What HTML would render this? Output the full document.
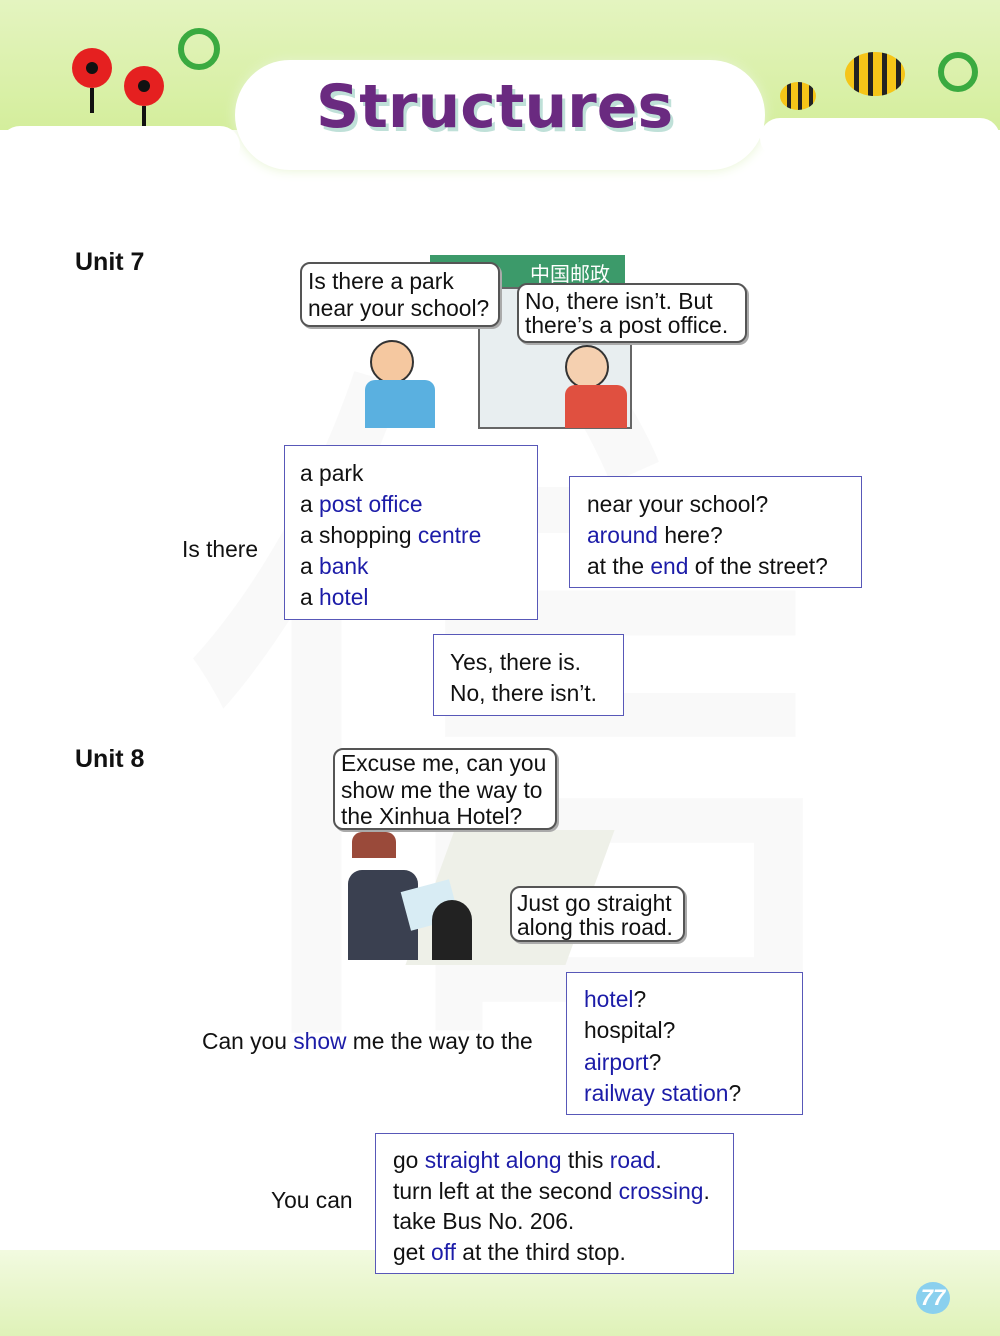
<!DOCTYPE html>
<html><head><meta charset="utf-8"><style>
body{margin:0;width:1000px;height:1336px;position:relative;overflow:hidden;background:#fff;font-family:"Liberation Sans","DejaVu Sans",sans-serif;color:#111}
.a{position:absolute;white-space:nowrap}
.t{font-size:22.8px;line-height:22px}
.b{color:#1c1ca8}
.box{position:absolute;border:1.5px solid #5858b8;background:#fff}
.bub{position:absolute;border:2px solid #555;border-radius:10px;background:#fff;box-shadow:2px 2px 0 #aaa}
.u{font-weight:bold;font-size:25px}
</style></head><body>
<div class="a" style="left:0;top:0;width:1000px;height:130px;background:linear-gradient(#e4f4c0,#d4ee9c)"></div>
<div class="a" style="left:235px;top:60px;width:530px;height:110px;background:#fff;border-radius:60px;box-shadow:0 0 12px #e6f4d0"></div>
<div class="a" style="left:760px;top:118px;width:240px;height:40px;background:#fff;border-radius:30px"></div>
<div class="a" style="left:0;top:126px;width:240px;height:40px;background:#fff;border-radius:30px"></div>
<div class="a" style="left:316px;top:72px;font-size:60px;font-weight:bold;color:#6a2a80;letter-spacing:0px;text-shadow:3px 4px 0 #bfe0d8;font-family:'DejaVu Sans',sans-serif">Structures</div>
<div class="a" style="left:72px;top:48px;width:40px;height:40px;border-radius:50%;background:#e52020"></div>
<div class="a" style="left:86px;top:62px;width:12px;height:12px;border-radius:50%;background:#111"></div>
<div class="a" style="left:90px;top:88px;width:4px;height:25px;background:#111"></div>
<div class="a" style="left:124px;top:66px;width:40px;height:40px;border-radius:50%;background:#e52020"></div>
<div class="a" style="left:138px;top:80px;width:12px;height:12px;border-radius:50%;background:#111"></div>
<div class="a" style="left:142px;top:106px;width:4px;height:20px;background:#111"></div>
<div class="a" style="left:178px;top:28px;width:30px;height:30px;border-radius:50%;border:6px solid #3aaa40"></div>
<div class="a" style="left:938px;top:52px;width:28px;height:28px;border-radius:50%;border:6px solid #3aaa40"></div>
<div class="a" style="left:845px;top:52px;width:60px;height:44px;border-radius:50%;background:repeating-linear-gradient(90deg,#f5c518 0 9px,#222 9px 14px)"></div>
<div class="a" style="left:780px;top:82px;width:36px;height:28px;border-radius:50%;background:repeating-linear-gradient(90deg,#f5c518 0 7px,#222 7px 11px)"></div>
<div class="a" style="left:170px;top:300px;font-size:720px;line-height:720px;color:#f9f9f9;font-family:'Noto Sans CJK SC',sans-serif">信</div>

<div class="a u" style="left:75px;top:248px">Unit 7</div>
<div class="a" style="left:430px;top:255px;width:195px;height:32px;background:#3c9a6a"></div>
<div class="a" style="left:530px;top:258px;color:#fff;font-size:20px;font-family:'Noto Sans CJK SC',sans-serif">中国邮政</div>
<div class="a" style="left:478px;top:287px;width:150px;height:138px;background:#e8eef0;border:2px solid #666"></div>
<div class="a" style="left:370px;top:340px;width:40px;height:40px;border-radius:50%;background:#f5c8a0;border:2px solid #333"></div>
<div class="a" style="left:365px;top:380px;width:70px;height:48px;background:#5ab0e0;border-radius:10px 10px 0 0"></div>
<div class="a" style="left:565px;top:345px;width:40px;height:40px;border-radius:50%;background:#f5d0b0;border:2px solid #333"></div>
<div class="a" style="left:565px;top:385px;width:62px;height:43px;background:#e05040;border-radius:10px 10px 0 0"></div>
<div class="bub" style="left:300px;top:262px;width:196px;height:61px"></div>
<div class="a t" style="left:308px;top:270px">Is there a park</div>
<div class="a t" style="left:308px;top:297px">near your school?</div>
<div class="bub" style="left:517px;top:283px;width:226px;height:56px"></div>
<div class="a t" style="left:525px;top:290px">No, there isn’t. But</div>
<div class="a t" style="left:525px;top:314px">there’s a post office.</div>

<div class="a t" style="left:182px;top:538px">Is there</div>
<div class="box" style="left:284px;top:445px;width:252px;height:173px"></div>
<div class="a t" style="left:300px;top:462px">a park</div>
<div class="a t" style="left:300px;top:493px">a <span class="b">post office</span></div>
<div class="a t" style="left:300px;top:524px">a shopping <span class="b">centre</span></div>
<div class="a t" style="left:300px;top:555px">a <span class="b">bank</span></div>
<div class="a t" style="left:300px;top:586px">a <span class="b">hotel</span></div>
<div class="box" style="left:569px;top:476px;width:291px;height:110px"></div>
<div class="a t" style="left:587px;top:493px">near your school?</div>
<div class="a t" style="left:587px;top:524px"><span class="b">around</span> here?</div>
<div class="a t" style="left:587px;top:555px">at the <span class="b">end</span> of the street?</div>
<div class="box" style="left:433px;top:634px;width:189px;height:80px"></div>
<div class="a t" style="left:450px;top:651px">Yes, there is.</div>
<div class="a t" style="left:450px;top:682px">No, there isn’t.</div>

<div class="a u" style="left:75px;top:745px">Unit 8</div>
<div class="a" style="left:430px;top:830px;width:160px;height:135px;background:#eef0e8;transform:skewX(-20deg)"></div>
<div class="a" style="left:352px;top:832px;width:44px;height:26px;background:#9a4a3a;border-radius:10px 10px 0 0"></div>
<div class="a" style="left:348px;top:870px;width:70px;height:90px;background:#3a4050;border-radius:14px 14px 0 0"></div>
<div class="a" style="left:405px;top:885px;width:50px;height:40px;background:#d8ecf4;transform:rotate(-15deg)"></div>
<div class="a" style="left:432px;top:900px;width:40px;height:60px;background:#222;border-radius:20px 20px 0 0"></div>
<div class="bub" style="left:333px;top:748px;width:220px;height:78px"></div>
<div class="a t" style="left:341px;top:752px">Excuse me, can you</div>
<div class="a t" style="left:341px;top:779px">show me the way to</div>
<div class="a t" style="left:341px;top:805px">the Xinhua Hotel?</div>
<div class="bub" style="left:510px;top:886px;width:171px;height:52px"></div>
<div class="a t" style="left:517px;top:892px">Just go straight</div>
<div class="a t" style="left:517px;top:916px">along this road.</div>

<div class="a t" style="left:202px;top:1030px">Can you <span class="b">show</span> me the way to the</div>
<div class="box" style="left:566px;top:972px;width:235px;height:141px"></div>
<div class="a t" style="left:584px;top:988px"><span class="b">hotel</span>?</div>
<div class="a t" style="left:584px;top:1019px">hospital?</div>
<div class="a t" style="left:584px;top:1051px"><span class="b">airport</span>?</div>
<div class="a t" style="left:584px;top:1082px"><span class="b">railway station</span>?</div>

<div class="a" style="left:0;top:1250px;width:1000px;height:86px;background:linear-gradient(#f2fae0,#dff2b8)"></div>
<div class="a t" style="left:271px;top:1189px">You can</div>
<div class="box" style="left:375px;top:1133px;width:357px;height:139px"></div>
<div class="a t" style="left:393px;top:1149px">go <span class="b">straight along</span> this <span class="b">road</span>.</div>
<div class="a t" style="left:393px;top:1180px">turn left at the second <span class="b">crossing</span>.</div>
<div class="a t" style="left:393px;top:1210px">take Bus No. 206.</div>
<div class="a t" style="left:393px;top:1241px">get <span class="b">off</span> at the third stop.</div>
<div class="a" style="left:916px;top:1282px;width:34px;height:32px;border-radius:50%;background:#8ad0ee;color:#fff;font-weight:bold;font-style:italic;font-size:22px;text-align:center;line-height:32px">77</div>
</body></html>
